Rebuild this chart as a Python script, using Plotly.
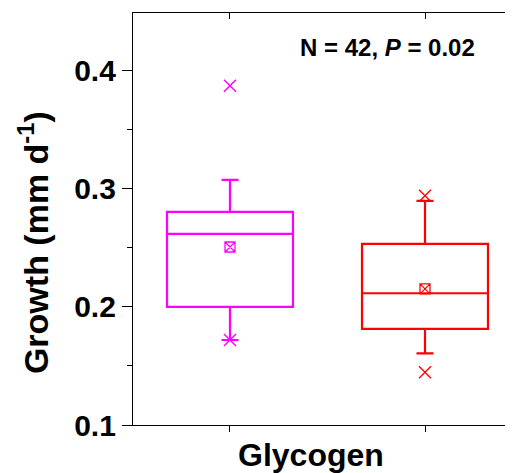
import plotly.graph_objects as go

# ---- data ----
groups = ["Group 1", "Group 2"]
colors = ["#FF00FF", "#FF0000"]
q1 = [0.200, 0.1814]
median = [0.2619, 0.2116]
q3 = [0.2805, 0.2534]
lower_whisker = [0.172, 0.1607]
upper_whisker = [0.3076, 0.2898]
means = [0.2508, 0.2153]
extreme_low = [0.172, 0.1447]
extreme_high = [0.3873, 0.2941]
y_ticks = [0.1, 0.2, 0.3, 0.4]

FONT = "Liberation Sans, Arial, Helvetica, sans-serif"

fig = go.Figure()
for i, g in enumerate(groups):
    fig.add_trace(go.Box(
        x=[g], q1=[q1[i]], median=[median[i]], q3=[q3[i]],
        lowerfence=[lower_whisker[i]], upperfence=[upper_whisker[i]],
        boxpoints=False, width=0.646, whiskerwidth=0.135,
        line=dict(color=colors[i], width=2.2),
        fillcolor="rgba(0,0,0,0)", showlegend=False, hoverinfo="skip",
    ))
    fig.add_trace(go.Scatter(
        x=[g], y=[means[i]], mode="markers",
        marker=dict(symbol="square-x-open", size=10, color=colors[i],
                    line=dict(width=1.3, color=colors[i])),
        showlegend=False, hoverinfo="skip",
    ))
    fig.add_trace(go.Scatter(
        x=[g, g], y=[extreme_low[i], extreme_high[i]], mode="markers",
        marker=dict(symbol="x-thin-open", size=12, color=colors[i],
                    line=dict(width=1.4, color=colors[i])),
        showlegend=False, hoverinfo="skip",
    ))

# invisible trace to materialise the top axis
fig.add_trace(go.Scatter(x=groups, y=[None, None], xaxis="x2", yaxis="y",
                         showlegend=False, hoverinfo="skip"))

xrange = [-0.4974, 1.4513]
fig.update_layout(
    width=505, height=465,
    margin=dict(l=125, r=0, t=5, b=48),
    plot_bgcolor="white", paper_bgcolor="white",
    xaxis=dict(type="category", categoryorder="array", categoryarray=groups,
               range=xrange, showline=True, linecolor="black", linewidth=1.3,
               ticks="outside", ticklen=6, tickwidth=1.3, tickcolor="black",
               showticklabels=False, showgrid=False, zeroline=False),
    xaxis2=dict(type="category", categoryorder="array", categoryarray=groups,
                range=xrange, overlaying="x", side="top", anchor="y",
                showline=True, linecolor="black", linewidth=1.3,
                ticks="inside", ticklen=6, tickwidth=1.3, tickcolor="black",
                showticklabels=False, showgrid=False, zeroline=False),
    yaxis=dict(range=[0.1, 0.449], tickvals=y_ticks, tickformat=".1f",
               showline=True, linecolor="black", linewidth=1.3,
               ticks="outside", ticklen=10, tickwidth=1.3, tickcolor="black",
               minor=dict(dtick=0.05, tick0=0.1, ticks="outside", ticklen=5,
                          tickwidth=1.3, tickcolor="black", showgrid=False),
               tickfont=dict(family=FONT, size=30, color="black", weight="bold"),
               showgrid=False, zeroline=False),
    annotations=[
        dict(text="N = 42, <i>P</i> = 0.02", xref="paper", yref="paper",
             x=0.671, y=0.916, xanchor="center", yanchor="middle", showarrow=False,
             font=dict(family=FONT, size=24, color="black", weight="bold")),
        dict(text="Glycogen", xref="paper", yref="paper",
             x=0.468, y=-0.024, xanchor="center", yanchor="top", showarrow=False,
             font=dict(family=FONT, size=32, color="black", weight="bold")),
        dict(text="Growth (mm d<sup>-1</sup>)", xref="paper", yref="paper",
             x=-0.263, y=0.4417, xanchor="center", yanchor="middle", textangle=-90,
             showarrow=False,
             font=dict(family=FONT, size=34, color="black", weight="bold")),
    ],
)

fig.write_html("out.html")
